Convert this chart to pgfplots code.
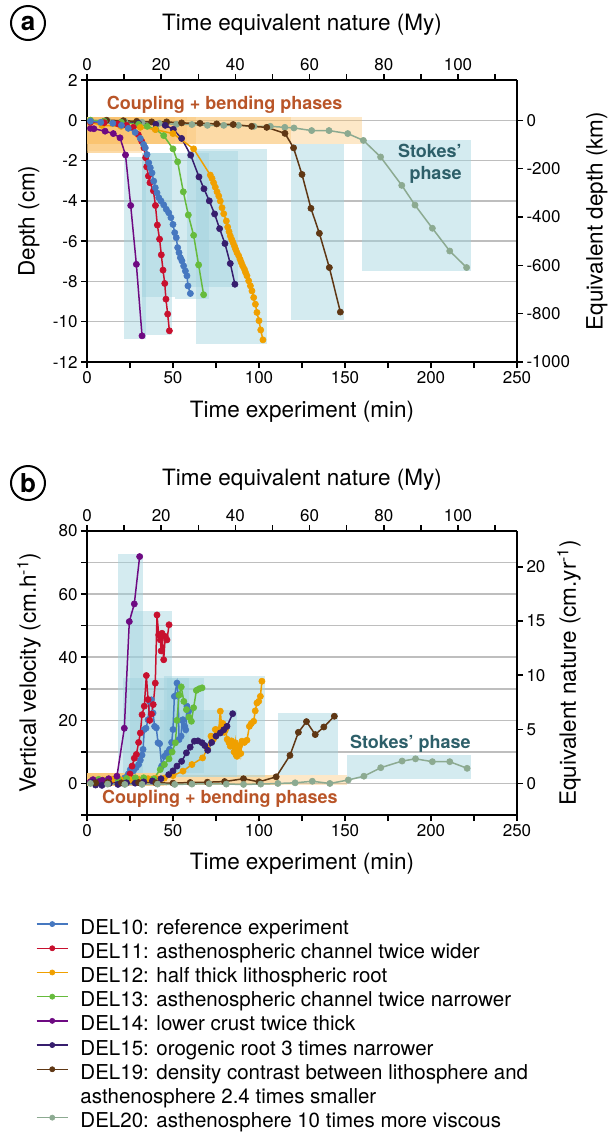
\documentclass[border=0pt]{standalone}
\usepackage{fontspec}
\setmainfont{TeX Gyre Heros}
\usepackage{pgfplots}
\pgfplotsset{compat=1.18}
\definecolor{c10}{RGB}{70,120,192}
\definecolor{c11}{RGB}{200,16,46}
\definecolor{c12}{RGB}{240,160,0}
\definecolor{c13}{RGB}{102,187,60}
\definecolor{c14}{RGB}{110,10,130}
\definecolor{c15}{RGB}{55,30,110}
\definecolor{c19}{RGB}{95,55,20}
\definecolor{c20}{RGB}{140,170,145}
\definecolor{stk}{RGB}{160,210,222}
\definecolor{cpl}{RGB}{250,195,110}
\definecolor{cpltext}{RGB}{185,85,40}
\definecolor{stktext}{RGB}{45,95,105}
\definecolor{gridc}{RGB}{190,190,190}
\pgfplotsset{
  base/.style={scale only axis, width=430pt, anchor=south west,
    tick align=outside, major tick length=6pt, minor tick length=6pt,
    major tick style={black, line width=1.5pt}, minor tick style={black, line width=1.5pt},
    axis line style={line width=1.6pt},
    tick label style={font=\fontsize{17}{20}\selectfont},
    label style={font=\fontsize{22.5}{27}\selectfont},
    /pgf/number format/assume math mode=true,
    /pgf/number format/1000 sep={},
    major grid style={gridc, line width=1.5pt},
    minor grid style={gridc, line width=1.5pt}},
  ser/.style={line width=1.5pt, color=#1, mark=*, mark size=3.1pt,
    mark options={solid, fill=#1, draw=#1, line width=0.6pt}},
  blu/.style={draw=none, fill=stk, fill opacity=0.45, forget plot},
  org/.style={draw=none, fill=cpl, fill opacity=0.38, forget plot},
}
\newcommand{\brect}[4]{\addplot[blu] coordinates {(#1,#3) (#2,#3) (#2,#4) (#1,#4)} --cycle;}
\newcommand{\orect}[4]{\addplot[org] coordinates {(#1,#3) (#2,#3) (#2,#4) (#1,#4)} --cycle;}
\begin{document}
\begin{tikzpicture}
\useasboundingbox (0,0) rectangle (609pt,-1136pt);
% ---------------- panel a ----------------
\begin{axis}[base, at={(87pt,-362pt)}, height=282pt,
  xmin=0, xmax=250, ymin=-12, ymax=2,
  axis x line*=bottom, axis y line*=left,
  xtick={0,50,...,250}, minor xtick={25,75,...,225},
  ytick={-12,-10,...,2}, ymajorgrids,
  xlabel={Time experiment (min)}, ylabel={Depth (cm)},
  xlabel style={at={(axis description cs:0.5,-0.177)}, anchor=center},
  ylabel style={at={(axis description cs:-0.135,0.5)}, anchor=center}]
\orect{0}{21.5}{0.15}{-1.6}
\orect{0}{32}{0.15}{-1.6}
\orect{0}{32}{0.15}{-1.5}
\orect{0}{51.4}{0.15}{-1.2}
\orect{0}{58}{0.15}{-1.2}
\orect{0}{63.4}{0.15}{-1.2}
\orect{0}{118.6}{0.15}{-1.2}
\orect{0}{160}{0.15}{-1.2}
\brect{21.5}{34.3}{-1.8}{-10.85}
\brect{32}{49.4}{-1.6}{-10.65}
\brect{32}{51}{-1.6}{-8.75}
\brect{51.4}{70.7}{-1.6}{-8.85}
\brect{58}{88}{-1.5}{-8.27}
\brect{63.4}{104.7}{-1.45}{-11.1}
\brect{118.6}{149.2}{-1.2}{-9.92}
\brect{160}{223}{-0.99}{-7.5}
\addplot[ser=c20] coordinates {(2,0) (12,-0.02) (22,-0.05) (32,-0.1) (42,-0.15) (52,-0.2) (61,-0.21) (70,-0.25) (79.5,-0.25) (88,-0.25) (97,-0.3) (106.6,-0.3) (115,-0.35) (120.3,-0.38) (130.6,-0.51) (140.7,-0.51) (151.6,-0.66) (160.7,-1.0) (170.7,-1.82) (183,-3.23) (190.7,-4.21) (200.8,-5.36) (210.9,-6.49) (220.7,-7.31)};
\addplot[ser=c19] coordinates {(11.4,0) (21.1,-0.02) (28.9,-0.05) (37.6,-0.08) (46.3,-0.08) (55,-0.13) (65.7,-0.15) (75.4,-0.18) (85,-0.21) (95.7,-0.3) (104.5,-0.35) (115.1,-0.65) (120.1,-1.37) (125,-2.69) (130.2,-4.37) (135.1,-5.61) (140.9,-7.31) (147.3,-9.52)};
\addplot[ser=c15] coordinates {(2,-0.05) (10,-0.05) (20,-0.1) (30,-0.15) (40,-0.2) (45.5,-0.25) (50.2,-0.45) (55,-0.9) (60.3,-1.73) (65.1,-2.81) (68,-3.4) (71.1,-4.0) (74.2,-4.65) (77.1,-5.38) (80.2,-6.12) (83.3,-7.11) (86,-8.14)};
\addplot[ser=c14] coordinates {(2,-0.4) (4,-0.42) (10.5,-0.54) (15.3,-0.66) (19.2,-0.87) (22.4,-1.72) (25.4,-4.23) (28.7,-7.15) (32,-10.7)};
\addplot[ser=c13] coordinates {(2,0) (10,-0.05) (20,-0.1) (30,-0.2) (35,-0.3) (40,-0.45) (44.6,-0.76) (50,-1.42) (52.7,-2.06) (56,-3.55) (58.9,-4.7) (62,-5.71) (64.9,-7.18) (67.8,-8.66)};
\addplot[ser=c12] coordinates {(2,-0.1) (8.7,-0.25) (19.8,-0.3) (31,-0.35) (39.7,-0.46) (50,-0.66) (62,-1.42) (71.7,-2.72) (72.7,-2.89) (73.6,-3.1) (74.6,-3.32) (75.6,-3.55) (76.6,-3.76) (77.5,-4.01) (78.5,-4.34) (79.5,-4.64) (81,-5.0) (81.8,-5.3) (82.6,-5.53) (83.3,-5.74) (84.1,-5.91) (84.9,-6.07) (85.7,-6.24) (86.4,-6.4) (87.2,-6.57) (88.2,-6.73) (89,-6.9) (89.7,-7.06) (90.5,-7.23) (91.5,-7.39) (92.2,-7.56) (93,-7.72) (94,-7.97) (95,-8.22) (95.9,-8.47) (96.9,-8.8) (97.9,-9.13) (98.8,-9.54) (100,-9.95) (101,-10.41) (102.3,-10.9)};
\addplot[ser=c11] coordinates {(2,-0.1) (10,-0.12) (18,-0.18) (23,-0.25) (26.9,-0.35) (29.8,-0.71) (31.8,-1.04) (33.1,-1.37) (34.1,-1.86) (34.7,-2.31) (35.7,-2.77) (36.6,-3.1) (38.6,-3.5) (39.8,-4.23) (40.9,-5.2) (42.2,-5.9) (43.2,-6.68) (44.2,-7.44) (45.2,-8.1) (45.9,-8.88) (46.9,-9.62) (47.9,-10.45)};
\addplot[ser=c10] coordinates {(2,-0.05) (8,-0.1) (15,-0.15) (20,-0.25) (24,-0.4) (28,-0.6) (31,-0.9) (32.9,-1.2) (33.9,-1.37) (34.9,-1.7) (35.9,-2.11) (36.8,-2.36) (37.8,-2.61) (38.8,-3.02) (39.7,-3.35) (40.7,-3.6) (41.7,-3.84) (43.0,-4.0) (44.6,-4.2) (46.1,-4.42) (47.5,-4.59) (48.8,-4.83) (50,-5.17) (51,-5.58) (51.9,-5.83) (52.7,-6.32) (53.5,-6.57) (54.3,-6.82) (55.2,-6.98) (56.2,-7.23) (57.2,-7.48) (58.1,-7.72) (58.7,-8.22) (60.1,-8.6)};
\node[text=cpltext, font=\bfseries\fontsize{18}{21}\selectfont] at (axis cs:80,0.78) {Coupling + bending phases};
\node[text=stktext, font=\bfseries\fontsize{18}{22}\selectfont, align=right, anchor=east] at (axis cs:219.8,-2.18) {Stokes’\\phase};
\end{axis}
\begin{axis}[base, at={(87pt,-362pt)}, height=282pt,
  xmin=0, xmax=115.9, ymin=-1000, ymax=166.67,
  axis x line*=top, axis y line*=right,
  xtick={0,20,...,100}, minor xtick={10,30,...,110},
  ytick={-1000,-800,...,0},
  xlabel={Time equivalent nature (My)}, ylabel={Equivalent depth (km)},
  xlabel style={at={(axis description cs:0.5,1.195)}, anchor=center},
  ylabel style={at={(axis description cs:1.186,0.5)}, anchor=center, rotate=0}]
\end{axis}
% ---------------- panel b ----------------
\begin{axis}[base, at={(87pt,-815pt)}, height=284pt,
  xmin=0, xmax=250, ymin=-10, ymax=80,
  axis x line*=bottom, axis y line*=left,
  xtick={0,50,...,250}, minor xtick={25,75,...,225},
  ytick={0,20,...,80}, minor ytick={-10,10,...,70}, ymajorgrids, yminorgrids,
  xlabel={Time experiment (min)}, ylabel={Vertical velocity (cm.h\textsuperscript{-1})},
  xlabel style={at={(axis description cs:0.5,-0.173)}, anchor=center},
  ylabel style={at={(axis description cs:-0.135,0.5)}, anchor=center},
  legend style={draw=none, fill=none, inner sep=0pt, outer sep=0pt,
    at={(axis description cs:-0.1186,-0.359)}, anchor=north west,
    font=\fontsize{20.5}{24.2}\selectfont, row sep=0pt, column sep=12pt,
    cells={anchor=west}, nodes={inner sep=0pt, text height=17.2pt, text depth=7pt}},
  legend image code/.code={\draw[mark repeat=2, mark phase=2, #1, mark size=2.6pt] plot coordinates {(0pt,5pt) (15.5pt,5pt) (31pt,5pt)};}]
\orect{0}{17.8}{-0.8}{3.2}
\orect{0}{25.2}{-0.8}{3.2}
\orect{0}{21}{-0.8}{3.2}
\orect{0}{46.5}{-0.8}{3.2}
\orect{0}{42.6}{-0.8}{3.2}
\orect{0}{45}{-0.8}{3.2}
\orect{0}{111}{-0.4}{2.8}
\orect{0}{151.3}{-0.4}{2.8}
\brect{17.8}{32.6}{3.4}{72.7}
\brect{25.2}{49.6}{3.4}{54.7}
\brect{21}{59.5}{3.4}{33.5}
\brect{46.5}{67.8}{3.4}{33.4}
\brect{42.6}{87.2}{2}{23.2}
\brect{45}{103.7}{2}{34}
\brect{111}{146.1}{2.8}{22.3}
\brect{151.3}{223.3}{1.3}{8.9}
\addplot[ser=c10] coordinates {(3,0.5) (8,0.8) (13,1) (18,1.2) (22,1.8) (24,3) (25.2,4.4) (27,4) (28.5,5) (30,6) (31,7.4) (32,9) (32.6,10.8) (33.3,17.1) (34.3,17.5) (35.5,20.2) (36.4,26) (37.4,26.5) (38.4,22.3) (39.3,18.1) (40.3,17.6) (41.3,12.9) (42.2,12.6) (43.4,5.5) (45,8.6) (46.5,9.7) (48,10.8) (49.2,13) (50,17.1) (50.8,27.6) (52.3,31.8) (53,28) (53.5,13.9) (54.7,15) (55.3,20) (55.8,20.2) (56.8,18.1) (57.4,17) (58.1,24.5) (59.1,22.9)};
\addlegendentry{DEL10: reference experiment}
\addplot[ser=c11] coordinates {(2,0.5) (8,0.8) (14,1) (20,1) (25,3) (26.2,5.5) (27.5,8) (28.7,9.2) (30,13) (31,16) (32,21.8) (33.3,24.5) (34.5,34.2) (35.5,26.6) (36.5,20) (37.5,22) (38.5,25) (39.7,31.8) (40.7,53.4) (41.7,47.1) (42.6,45.5) (43.1,42) (43.6,47.6) (44.6,39.2) (45.5,46.6) (46.5,45.5) (47.7,50.3)};
\addlegendentry{DEL11: asthenospheric channel twice wider}
\addplot[ser=c12] coordinates {(3,0.8) (9,1) (14.5,1.3) (20,1) (25,1.2) (30,1.3) (35.5,1.5) (40,1.6) (45,1.7) (50,2.5) (55.8,3.9) (61,6) (67.2,8.1) (70,11) (72.1,15) (73.5,14) (74.6,17.1) (75.5,17) (76.5,16) (77.5,22.9) (78.3,18) (79,19) (79.8,16.2) (80.5,17) (81.5,14) (82.5,13) (83.3,11.8) (84,13.5) (84.8,12) (85.5,10) (86.2,12.9) (86.7,9) (87.2,8.6) (88,11) (88.8,12) (89.4,9.5) (90.1,13.4) (91.5,13) (93,13.7) (94.4,18.1) (95.5,19) (96.9,19.7) (97.8,23) (98.8,25.5) (99.8,26) (100.8,27.6) (101.7,32.4)};
\addlegendentry{DEL12: half thick lithospheric root}
\addplot[ser=c13] coordinates {(3,1) (6.8,1.3) (12,1.2) (18,1.5) (23,1.6) (28.1,1.8) (33,1.8) (38.8,1.5) (42.6,4.4) (45,6) (47.7,7.8) (49.5,10) (51.4,12.9) (52.3,20) (53.5,28) (54.8,30.6) (56.3,26) (57.8,23.4) (59.3,21) (60.7,19.7) (62,24) (63.6,29.5) (65.2,30) (66.9,30.3)};
\addlegendentry{DEL13: asthenospheric channel twice narrower}
\addplot[ser=c14] coordinates {(2,0.5) (3.5,1.2) (7,0.6) (9,1) (12.6,1.5) (17.4,2.3) (21.7,17.5) (24.6,51.3) (27.5,56.9) (30.6,71.9)};
\addlegendentry{DEL14: lower crust twice thick}
\addplot[ser=c15] coordinates {(3,0.3) (5,-0.5) (8.7,-0.6) (13,0) (18,-0.3) (23,0.2) (28,0.1) (33,0.5) (38,0.8) (43,1.5) (47.5,2.8) (50,4) (52.3,5.5) (55,7) (57.8,9.7) (60,11.5) (62.4,13.4) (64.5,13.5) (66.9,12.9) (68.5,12) (70.2,10.5) (72.5,13) (75,15) (77.5,16) (79.5,17) (81.4,18.1) (84.7,22.1)};
\addlegendentry{DEL15: orogenic root 3 times narrower}
\addplot[ser=c19] coordinates {(5,0.2) (12,0.3) (20,0.2) (30,0.3) (40,0.2) (50,0.1) (60,0.3) (70,0.4) (80,0.6) (91,1.5) (100,0.5) (110,2.1) (118,8.9) (122.9,16.2) (127.6,19.6) (132.7,15.5) (137.7,17.9) (143.8,21.3)};
\addlegendentry{DEL19: density contrast between lithosphere and}
\addlegendimage{empty legend}
\addlegendentry{asthenosphere 2.4 times smaller}
\addplot[ser=c20] coordinates {(2,0) (12,-0.2) (22,-0.3) (32,-0.3) (41,-0.2) (51,-0.3) (61,-0.2) (71,-0.1) (81,-0.2) (91,-0.3) (101,-0.2) (111,0) (121,0.2) (131,0.7) (141.2,0) (151.9,1.1) (161,2.3) (170.8,5) (183.2,7.1) (191,7.8) (200.8,6.9) (210.9,6.9) (221,4.8)};
\addlegendentry{DEL20: asthenosphere 10 times more viscous}
\node[text=cpltext, font=\bfseries\fontsize{18}{21}\selectfont] at (axis cs:77.3,-4.8) {Coupling + bending phases};
\node[text=stktext, font=\bfseries\fontsize{18}{21}\selectfont] at (axis cs:188,12.6) {Stokes’ phase};
\end{axis}
\begin{axis}[base, at={(87pt,-815pt)}, height=284pt,
  xmin=0, xmax=115.9, ymin=-2.915, ymax=23.32,
  axis x line*=top, axis y line*=right,
  xtick={0,20,...,100}, minor xtick={10,30,...,110},
  ytick={0,5,...,20},
  xlabel={Time equivalent nature (My)}, ylabel={Equivalent nature (cm.yr\textsuperscript{-1})},
  xlabel style={at={(axis description cs:0.5,1.180)}, anchor=center},
  ylabel style={at={(axis description cs:1.121,0.5)}, anchor=center, rotate=0}]
\end{axis}
\node[circle, draw, line width=2pt, minimum size=34pt, inner sep=0pt, font=\bfseries\fontsize{26}{26}\selectfont] at (28pt,-23pt) {a};
\node[circle, draw, line width=2pt, minimum size=34pt, inner sep=0pt, font=\bfseries\fontsize{26}{26}\selectfont] at (28pt,-483pt) {b};
\end{tikzpicture}
\end{document}
